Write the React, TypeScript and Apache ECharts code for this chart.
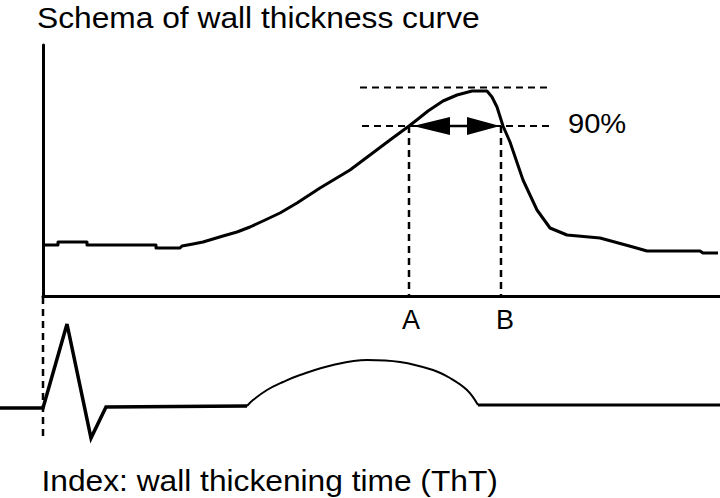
import { useEffect, useRef } from "react";
import * as echarts from "echarts";

// ---- Texts ----
const TITLE = "Schema of wall thickness curve";
const INDEX_TEXT = "Index: wall thickening time (ThT)";
const LEVEL_LABEL = "90%";
const LABEL_A = "A";
const LABEL_B = "B";

// ---- Wall thickness curve (time units from R-wave onset, thickness units) ----
const thicknessCurve: [number, number][] = [
  [0, 51], [15, 51], [15, 54], [44, 54], [44, 51], [113, 51], [113, 48], [137, 48],
  [139, 50], [150, 52], [160, 54], [170, 57], [180, 60], [194, 64], [207, 69],
  [220, 75], [237, 83], [254, 93], [277, 108], [307, 126], [327, 141], [347, 156],
  [366, 170], [375, 177], [385, 185], [400, 195], [414, 201], [429, 205], [444, 205],
  [449, 199], [454, 189], [460, 170], [467, 154], [480, 116], [494, 86], [507, 68],
  [524, 61], [557, 58], [590, 49], [604, 45], [657, 45], [660, 43], [675, 43],
];

// ---- Reference levels / times ----
const peakLevel = 208.5;
const level90 = 170;
const levelLineStart = 317;
const levelLineEnd = 507;
const timeA = 366;
const timeB = 458;
const arrowHeadLeft = 388.5;
const arrowHeadRight = 440.5;

// ---- ECG trace (same time units, amplitude units) ----
const ecgQrs: [number, number][] = [
  [-43, 42], [0, 42], [24, 126], [48, 12], [63, 43], [204, 44],
];
const ecgT: [number, number][] = [
  [204, 44], [210, 50], [224, 60], [240, 68], [257, 75], [290, 85], [324, 90],
  [357, 88], [390, 80], [407, 72], [424, 60], [435, 45],
];
const ecgTail: [number, number][] = [
  [435, 45], [677, 45],
];
const onsetTop = 153;
const onsetBottom = 10;

const FONT = '"Liberation Sans", Arial, Helvetica, sans-serif';

export default function App() {
  const ref = useRef<HTMLDivElement>(null);

  useEffect(() => {
    if (!ref.current) return;
    const chart = echarts.init(ref.current, undefined, { renderer: "svg" });

    const hiddenAxis = {
      axisLine: { show: false },
      axisTick: { show: false },
      axisLabel: { show: false },
      splitLine: { show: false },
    };
    const visibleAxisLine = {
      show: true,
      onZero: false,
      lineStyle: { color: "#000", width: 3 },
    };

    const dashed = (data: [number, number][], width = 2, xi = 0) => ({
      type: "line",
      xAxisIndex: xi,
      yAxisIndex: xi,
      data,
      showSymbol: false,
      symbol: "none",
      clip: false,
      silent: true,
      lineStyle: { color: "#000", width, type: [7, 5] },
      z: 3,
    });

    chart.setOption({
      animation: false,
      backgroundColor: "#fff",
      grid: [
        { left: 43, top: 45, width: 677, height: 251 },
        { left: 0, top: 290, width: 720, height: 160 },
      ],
      xAxis: [
        {
          type: "value", gridIndex: 0, min: 0, max: 677,
          ...hiddenAxis, axisLine: visibleAxisLine,
        },
        { type: "value", gridIndex: 1, min: -43, max: 677, show: false },
      ],
      yAxis: [
        {
          type: "value", gridIndex: 0, min: 0, max: 251,
          ...hiddenAxis, axisLine: visibleAxisLine,
        },
        { type: "value", gridIndex: 1, min: 0, max: 160, show: false },
      ],
      series: [
        {
          type: "line",
          xAxisIndex: 0, yAxisIndex: 0,
          data: thicknessCurve,
          showSymbol: false, symbol: "none", clip: false,
          lineStyle: { color: "#000", width: 3, join: "round" },
          z: 5,
        },
        dashed([[levelLineStart, peakLevel], [levelLineEnd, peakLevel]]),
        dashed([[levelLineStart + 2, level90], [levelLineEnd, level90]]),
        dashed([[timeA, level90], [timeA, 0]], 2.5),
        dashed([[timeB, level90], [timeB, 0]], 2.5),
        {
          type: "line",
          xAxisIndex: 0, yAxisIndex: 0,
          data: [[arrowHeadLeft, level90], [arrowHeadRight, level90]],
          showSymbol: false, symbol: "none", clip: false,
          lineStyle: { color: "#000", width: 2.5 },
          z: 6,
        },
        {
          type: "scatter",
          xAxisIndex: 0, yAxisIndex: 0,
          data: [[arrowHeadLeft, level90]],
          symbol: "triangle", symbolSize: [18, 37], symbolRotate: 90,
          itemStyle: { color: "#000", opacity: 1 },
          z: 7,
        },
        {
          type: "scatter",
          xAxisIndex: 0, yAxisIndex: 0,
          data: [[arrowHeadRight, level90]],
          symbol: "triangle", symbolSize: [18, 33], symbolRotate: -90,
          itemStyle: { color: "#000", opacity: 1 },
          z: 7,
        },
        // ECG
        {
          type: "line",
          xAxisIndex: 1, yAxisIndex: 1,
          data: ecgQrs,
          showSymbol: false, symbol: "none", clip: false,
          lineStyle: { color: "#000", width: 3.5, join: "miter" },
        },
        {
          type: "line",
          xAxisIndex: 1, yAxisIndex: 1,
          data: ecgT,
          smooth: 0.4,
          showSymbol: false, symbol: "none", clip: false,
          lineStyle: { color: "#000", width: 2 },
        },
        {
          type: "line",
          xAxisIndex: 1, yAxisIndex: 1,
          data: ecgTail,
          showSymbol: false, symbol: "none", clip: false,
          lineStyle: { color: "#000", width: 3 },
        },
        dashed([[0, onsetTop], [0, onsetBottom]], 2.5, 1),
      ],
      graphic: [
        {
          type: "text", x: 37, y: 17.6, scaleX: 1.058,
          style: { text: TITLE, fontSize: 30, fontFamily: FONT, fill: "#000", align: "left", verticalAlign: "middle" },
        },
        {
          type: "text", x: 41.5, y: 480.6, scaleX: 1.057,
          style: { text: INDEX_TEXT, fontSize: 30, fontFamily: FONT, fill: "#000", align: "left", verticalAlign: "middle" },
        },
        {
          type: "text", x: 568, y: 123.3, scaleX: 1.04,
          style: { text: LEVEL_LABEL, fontSize: 28, fontFamily: FONT, fill: "#000", align: "left", verticalAlign: "middle" },
        },
        {
          type: "text", x: 411, y: 319.6,
          style: { text: LABEL_A, fontSize: 27, fontFamily: FONT, fill: "#000", align: "center", verticalAlign: "middle" },
        },
        {
          type: "text", x: 505, y: 319.6,
          style: { text: LABEL_B, fontSize: 27, fontFamily: FONT, fill: "#000", align: "center", verticalAlign: "middle" },
        },
      ],
    });

    return () => chart.dispose();
  }, []);

  return (
    <div
      ref={ref}
      style={{ position: "fixed", left: 0, top: 0, width: 720, height: 498, background: "#fff" }}
    />
  );
}
